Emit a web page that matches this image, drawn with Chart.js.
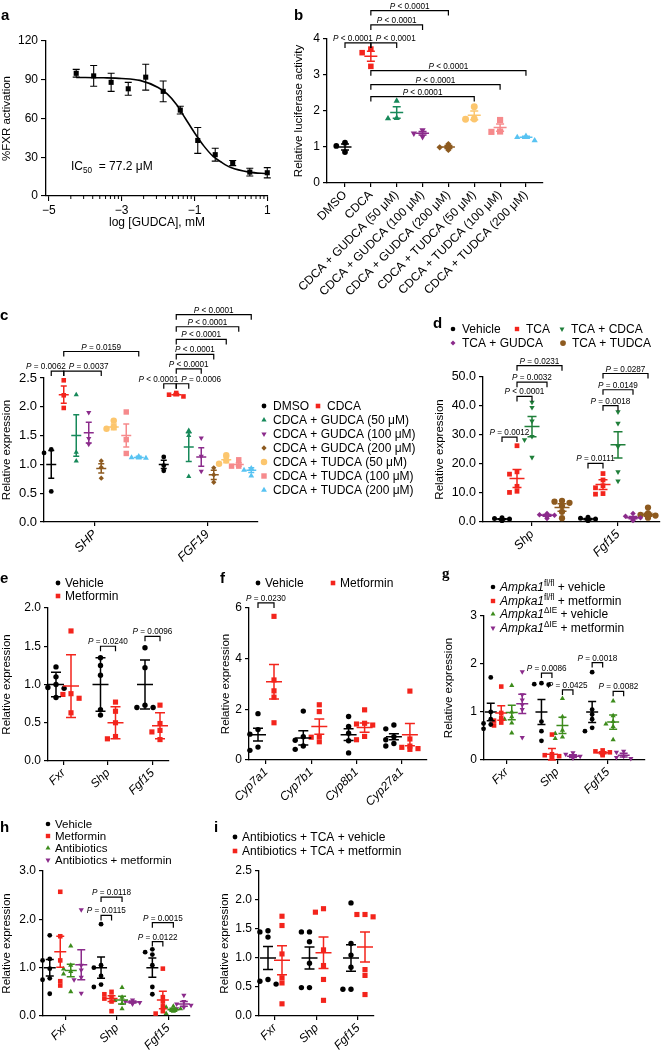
<!DOCTYPE html>
<html>
<head>
<meta charset="utf-8">
<script src="https://cdn.jsdelivr.net/npm/chart.js@4.4.1/dist/chart.umd.min.js"></script>
<style>
  html, body { margin: 0; padding: 0; background: #fff; }
  #page { position: relative; width: 664px; height: 1050px; overflow: hidden; }
  #page canvas { position: absolute; left: 0; top: 0; }
</style>
</head>
<body>
<div id="page"></div>
<script>
// ---------- data ----------

// a: dose response
const aLogDose = [-4.25, -3.77, -3.29, -2.82, -2.34, -1.86, -1.39, -0.91, -0.43, 0.05, 0.52, 1.0];
const aActivation = [95, 93, 88, 83, 92, 81, 66.5, 43, 32, 25.5, 18.5, 18];
const aError = [3, 8, 7, 5, 10, 8, 3, 10, 5, 2, 3, 4];
const aFitX = [-4.25, -3.5, -3, -2.5, -2, -1.75, -1.5, -1.25, -1, -0.75, -0.5, -0.25, 0, 0.5, 1];
const aFitY = [91.8, 91.5, 91, 89.5, 84, 79, 71, 60, 49, 39, 31, 26, 22, 18.5, 17.3];
const aMajorTicks = [-5, -3, -1, 1];
const aYTicks = [0, 30, 60, 90, 120];

// b: luciferase
const bGroups = ['DMSO', 'CDCA', 'CDCA + GUDCA (50 μM)', 'CDCA + GUDCA (100 μM)', 'CDCA + GUDCA (200 μM)',
  'CDCA + TUDCA (50 μM)', 'CDCA + TUDCA (100 μM)', 'CDCA + TUDCA (200 μM)'];
const bPoints = [[1.12, 1.03, 0.86], [3.72, 3.62, 3.24], [2.28, 1.8, 1.79], [1.47, 1.38, 1.28],
  [1.08, 0.99, 0.92], [2.12, 1.78, 1.77], [1.75, 1.43, 1.42], [1.3, 1.27, 1.18]];
const bMeans = [1.0, 3.52, 1.96, 1.38, 1.0, 1.88, 1.54, 1.27];
const bSems = [0.08, 0.14, 0.16, 0.05, 0.04, 0.12, 0.1, 0.03];
const bStats = [
  [[0, 0], [1, 1], 3.89, '*P* < 0.0001', 'r'],
  [[1, 1], [2, 2], 3.89, '*P* < 0.0001', 'l'],
  [[1, 1], [3, 3], 4.39, '*P* < 0.0001', 'c'],
  [[1, 1], [4, 4], 4.79, '*P* < 0.0001', 'c'],
  [[1, 1], [7, 7], 3.12, '*P* < 0.0001', 'c'],
  [[1, 1], [6, 6], 2.73, '*P* < 0.0001', 'c'],
  [[1, 1], [5, 5], 2.4, '*P* < 0.0001', 'c'],
];

// c: SHP / FGF19
const cGenes = ['SHP', 'FGF19'];
const cLabels = ['DMSO', 'CDCA', 'CDCA + GUDCA (50 μM)', 'CDCA + GUDCA (100 μM)', 'CDCA + GUDCA (200 μM)',
  'CDCA + TUDCA (50 μM)', 'CDCA + TUDCA (100 μM)', 'CDCA + TUDCA (200 μM)'];
const cPoints = [
  [[1.26, 1.2, 0.53], [1.13, 0.98, 0.89]],
  [[2.46, 2.2, 1.98], [2.24, 2.21, 2.18]],
  [[2.21, 1.21, 1.06], [1.59, 1.5, 0.79]],
  [[1.9, 1.45, 1.35], [1.46, 1.14, 0.88]],
  [[1.06, 0.95, 0.76], [0.94, 0.82, 0.69]],
  [[1.76, 1.65, 1.62], [1.16, 1.07, 1.01]],
  [[1.91, 1.43, 1.19], [1.08, 0.97, 0.97]],
  [[1.14, 1.12, 1.11], [0.93, 0.9, 0.8]],
];
const cMeans = [[1.0, 1.0], [2.21, 2.21], [1.5, 1.3], [1.55, 1.13], [0.93, 0.82], [1.65, 1.08], [1.5, 1.0], [1.12, 0.9]];
const cSems = [[0.24, 0.07], [0.15, 0.02], [0.36, 0.25], [0.18, 0.16], [0.08, 0.08], [0.05, 0.05], [0.2, 0.03], [0.02, 0.04]];
const cStats = [
  [[0, 0], [0, 1], 2.62, '*P* = 0.0062', 'r'],
  [[0, 1], [0, 4], 2.62, '*P* = 0.0037', 'l'],
  [[0, 1], [0, 7], 2.96, '*P* = 0.0159', 'c'],
  [[1, 0], [1, 1], 2.4, '*P* < 0.0001', 'r'],
  [[1, 1], [1, 2], 2.4, '*P* = 0.0006', 'l'],
  [[1, 1], [1, 3], 2.66, '*P* < 0.0001', 'c'],
  [[1, 1], [1, 4], 2.91, '*P* < 0.0001', 'c'],
  [[1, 1], [1, 5], 3.17, '*P* < 0.0001', 'c'],
  [[1, 1], [1, 6], 3.39, '*P* < 0.0001', 'c'],
  [[1, 1], [1, 7], 3.6, '*P* < 0.0001', 'c'],
];

// d: Shp / Fgf15 with TCA
const dGenes = ['Shp', 'Fgf15'];
const dLabels = ['Vehicle', 'TCA', 'TCA + CDCA', 'TCA + GUDCA', 'TCA + TUDCA'];
const dPoints = [
  [[1.5, 1.2, 1.0, 0.8, 0.6, 0.5], [1.6, 1.3, 1.0, 0.8, 0.6, 0.5]],
  [[26.3, 17.3, 16.5, 12.3, 10.6, 10.2], [16.7, 14.5, 12.5, 11.8, 9.8, 9.6]],
  [[41.3, 39.5, 34.8, 29.5, 28.3, 22.3], [38, 34, 26, 17.3, 14.1]],
  [[2.9, 2.5, 2.3, 2.1, 1.8, 1.2], [2.9, 2.0, 1.5, 1.2, 0.8, 0.5]],
  [[7.3, 7.0, 6.6, 5.5, 3.5, 1.3], [5.0, 3.0, 2.5, 2.2, 1.8, 1.5]],
];
const dMeans = [[1.0, 1.0], [15.0, 12.9], [32.9, 26.6], [2.3, 1.5], [5.0, 2.5]];
const dSems = [[0.15, 0.2], [3.1, 1.7], [3.5, 4.5], [0.3, 0.4], [1.3, 0.5]];
const dStats = [
  [[0, 0], [0, 1], 29.3, '*P* = 0.0012', 'c'],
  [[0, 1], [0, 2], 43.3, '*P* < 0.0001', 'c'],
  [[0, 1], [0, 3], 48.2, '*P* = 0.0032', 'c'],
  [[0, 1], [0, 4], 53.9, '*P* = 0.0231', 'c'],
  [[1, 0], [1, 1], 20.2, '*P* = 0.0111', 'c'],
  [[1, 1], [1, 2], 40.1, '*P* = 0.0018', 'c'],
  [[1, 1], [1, 3], 45.6, '*P* = 0.0149', 'c'],
  [[1, 1], [1, 4], 51.2, '*P* = 0.0287', 'c'],
];

// e: metformin Fxr/Shp/Fgf15
const eGenes = ['Fxr', 'Shp', 'Fgf15'];
const eLabels = ['Vehicle', 'Metformin'];
const ePoints = [
  [[1.23, 1.1, 1.0, 0.96, 0.95, 0.83], [1.35, 1.25, 1.12, 0.67, 0.6], [1.48, 1.22, 0.73, 0.7, 0.7]],
  [[1.7, 0.88, 0.87, 0.82, 0.63], [0.77, 0.65, 0.5, 0.32, 0.29], [0.73, 0.49, 0.4, 0.38, 0.28]],
];
const eMeans = [[1.0, 1.0, 1.0], [0.98, 0.5, 0.46]];
const eSems = [[0.16, 0.35, 0.32], [0.41, 0.21, 0.17]];
const eStats = [
  [[1, 0], [1, 1], 1.5, '*P* = 0.0240', 'c'],
  [[2, 0], [2, 1], 1.63, '*P* = 0.0096', 'c'],
];

// f: Cyp genes
const fGenes = ['Cyp7a1', 'Cyp7b1', 'Cyp8b1', 'Cyp27a1'];
const fLabels = ['Vehicle', 'Metformin'];
const fPoints = [
  [[1.83, 1.2, 1.02, 0.51, 0.38], [1.93, 0.92, 0.78, 0.55, 0.42], [1.72, 1.32, 1.06, 0.76, 0.28], [1.38, 1.23, 0.92, 0.8, 0.65, 0.55]],
  [[5.67, 3.16, 2.73, 2.48, 1.47], [2.18, 1.91, 0.93, 0.9, 0.72], [1.98, 1.45, 1.42, 1.38, 0.93, 0.8], [2.72, 0.83, 0.55, 0.5, 0.45, 0.42]],
];
const fMeans = [[1.0, 0.87, 1.0, 0.92], [3.09, 1.32, 1.28, 1.0]];
const fSems = [[0.25, 0.28, 0.23, 0.12], [0.68, 0.3, 0.18, 0.44]];
const fStats = [[[0, 0], [0, 1], 6.2, '*P* = 0.0230', 'c']];

// g: Ampka1 mice
const gGenes = ['Fxr', 'Shp', 'Fgf15'];
const gLabels = ['*Ampka1*^fl/fl^ + vehicle', '*Ampka1*^fl/fl^ + metformin', '*Ampka1*^ΔIE^ + vehicle', '*Ampka1*^ΔIE^ + metformin'];
const gPoints = [
  [[1.72, 1.0, 0.85, 0.76, 0.74, 0.65], [1.6, 1.58, 1.57, 0.8, 0.6, 0.4], [1.83, 1.05, 0.95, 0.85, 0.67, 0.6]],
  [[1.53, 0.98, 0.88, 0.82, 0.78, 0.72], [0.53, 0.12, 0.1, 0.08, 0.05, 0.05], [0.2, 0.18, 0.16, 0.14, 0.12, 0.1]],
  [[1.55, 1.0, 0.9, 0.85, 0.77, 0.56], [1.28, 0.9, 0.62, 0.55, 0.48, 0.45], [1.23, 0.92, 0.8, 0.75, 0.7, 0.42]],
  [[1.84, 1.36, 1.25, 1.15, 1.05, 0.47], [0.15, 0.12, 0.08, 0.05, 0.04], [0.18, 0.16, 0.08, 0.05, 0.03]],
];
const gMeans = [[1.0, 1.0, 1.0], [0.98, 0.12, 0.15], [0.99, 0.72, 0.79], [1.17, 0.08, 0.1]];
const gSems = [[0.18, 0.26, 0.22], [0.15, 0.12, 0.02], [0.15, 0.17, 0.15], [0.2, 0.03, 0.04]];
const gStats = [
  [[1, 0], [1, 1], 1.81, '*P* = 0.0086', 'c'],
  [[1, 2], [1, 3], 1.46, '*P* = 0.0425', 'c'],
  [[2, 0], [2, 1], 2.03, '*P* = 0.0018', 'c'],
  [[2, 2], [2, 3], 1.43, '*P* = 0.0082', 'c'],
];

// h: antibiotics
const hGenes = ['Fxr', 'Shp', 'Fgf15'];
const hLabels = ['Vehicle', 'Metformin', 'Antibiotics', 'Antibiotics + metformin'];
const hPoints = [
  [[1.67, 1.18, 1.15, 0.98, 0.78, 0.75, 0.46], [1.9, 1.05, 1.0, 0.83, 0.65, 0.6], [1.38, 1.32, 1.27, 1.05, 0.6, 0.45]],
  [[2.57, 1.65, 1.15, 0.72, 0.63], [0.5, 0.45, 0.4, 0.36, 0.3, 0.1], [0.98, 0.39, 0.3, 0.2, 0.1, 0.05]],
  [[1.45, 1.05, 0.97, 0.92, 0.87, 0.5], [0.59, 0.39, 0.32, 0.26, 0.15], [0.2, 0.18, 0.15, 0.12, 0.1, 0.05]],
  [[2.2, 1.05, 0.95, 0.8, 0.75, 0.47], [0.33, 0.3, 0.28, 0.27, 0.25], [0.43, 0.3, 0.25, 0.22, 0.18, 0.15]],
];
const hMeans = [[1.0, 1.0, 1.0], [1.33, 0.36, 0.33], [0.94, 0.33, 0.13], [1.06, 0.29, 0.25]];
const hSems = [[0.17, 0.22, 0.2], [0.32, 0.06, 0.18], [0.13, 0.08, 0.03], [0.31, 0.02, 0.05]];
const hStats = [
  [[1, 0], [1, 2], 2.46, '*P* = 0.0118', 'c'],
  [[1, 0], [1, 1], 2.08, '*P* = 0.0115', 'c'],
  [[2, 0], [2, 2], 1.93, '*P* = 0.0015', 'c'],
  [[2, 0], [2, 1], 1.54, '*P* = 0.0122', 'c'],
];

// i: antibiotics + TCA
const iGenes = ['Fxr', 'Shp', 'Fgf15'];
const iLabels = ['Antibiotics + TCA + vehicle', 'Antibiotics + TCA + metformin'];
const iPoints = [
  [[1.47, 1.45, 1.36, 0.63, 0.6, 0.55], [1.45, 1.45, 1.28, 0.91, 0.49, 0.49], [1.95, 1.25, 1.05, 0.84, 0.46, 0.46]],
  [[1.72, 1.56, 1.07, 0.66, 0.57, 0.21], [1.85, 1.79, 1.14, 0.87, 0.63, 0.27], [1.75, 1.75, 1.71, 0.8, 0.7, 0.37]],
];
const iMeans = [[1.0, 1.0, 1.0], [0.96, 1.09, 1.19]];
const iSems = [[0.2, 0.19, 0.23], [0.25, 0.27, 0.26]];

// ---------- styles ----------
const FF = "'Liberation Sans', Arial, Helvetica, sans-serif";
const BLACK = '#000';
const RED = '#f3241c';
const GREEN = '#17895a';
const PURPLE = '#8b2b8b';
const BROWN = '#8d5a1f';
const YELLOW = '#fcc66e';
const PINK = '#f68a8c';
const CYAN = '#58c3f2';
const GREEN_D = '#1f7f3a';
const GREEN_G = '#3d8c1c';

const dot = (color, scale) => ({color, style: 'circle', scale: scale || 1});
const sq = (color, scale) => ({color, style: 'rect', scale: scale || 1.35});
const tri = (color, scale) => ({color, style: 'triangle', scale: scale || 1.25});
const inv = (color, scale) => ({color, style: 'triangle', rot: 180, scale: scale || 1.25});
const dia = (color, scale) => ({color, style: 'rectRot', scale: scale || 1.1});

Chart.defaults.color = '#000';
Chart.defaults.font.family = FF;

const X_AXIS_H = 130; // room for the rotated category labels

// ---------- helpers ----------
function mkCanvas() {
  const c = document.createElement('canvas');
  c.width = 664;
  c.height = 1050;
  c.style.width = '664px';
  c.style.height = '1050px';
  document.getElementById('page').appendChild(c);
  return c.getContext('2d');
}

function parseRich(s) {
  const segs = [];
  let it = false, sup = false, sub = false, buf = '';
  const push = () => { if (buf) segs.push({t: buf, it, sup, sub}); buf = ''; };
  for (const ch of s) {
    if (ch === '*') { push(); it = !it; }
    else if (ch === '^') { push(); sup = !sup; }
    else if (ch === '_') { push(); sub = !sub; }
    else buf += ch;
  }
  push();
  return segs;
}
const plain = s => s.replace(/[*^_]/g, '');

function drawRich(ctx, s, x, y, size, align) {
  const segs = parseRich(s);
  const fontOf = g => (g.it ? 'italic ' : '') + ((g.sup || g.sub) ? size * 0.68 : size) + 'px ' + FF;
  let w = 0;
  segs.forEach(g => { ctx.font = fontOf(g); g.w = ctx.measureText(g.t).width; w += g.w; });
  let cx = align === 'center' ? x - w / 2 : align === 'right' ? x - w : x;
  ctx.textAlign = 'left';
  ctx.textBaseline = 'alphabetic';
  segs.forEach(g => {
    ctx.font = fontOf(g);
    const dy = g.sup ? -size * 0.42 : g.sub ? size * 0.28 : 0;
    ctx.fillText(g.t, cx, y + dy);
    cx += g.w;
  });
}

function drawLetter(ctx, ch, x, y, serif) {
  ctx.save();
  ctx.fillStyle = '#000';
  ctx.font = 'bold 15px ' + (serif ? "'Liberation Serif', 'Times New Roman', serif" : FF);
  ctx.textAlign = 'left';
  ctx.textBaseline = 'alphabetic';
  ctx.fillText(ch, x, y);
  ctx.restore();
}

const axisGrid = {drawOnChartArea: false, color: '#000', tickLength: 4, lineWidth: 1.2};
const axisBorder = {color: '#000', width: 1.3};

// ---------- panel a ----------
(function panelA() {
  const ctx = mkCanvas();
  const box = {l: 46, t: 41, r: 268, b: 196};
  const titleX = 6, titleY = 223;
  const padL = Math.max(0, titleX - 6.9);
  const xBottom = titleY + 7.2;

  const deco = {
    id: 'decoA',
    afterDatasetsDraw(chart) {
      const c = chart.ctx, xs = chart.scales.x, ys = chart.scales.y;
      c.save();
      c.strokeStyle = '#000';
      c.lineWidth = 1.1;
      c.beginPath();
      aLogDose.forEach((x, i) => {
        const px = xs.getPixelForValue(x);
        const y1 = ys.getPixelForValue(aActivation[i] + aError[i]);
        const y2 = ys.getPixelForValue(aActivation[i] - aError[i]);
        c.moveTo(px, y1); c.lineTo(px, y2);
        c.moveTo(px - 3.5, y1); c.lineTo(px + 3.5, y1);
        c.moveTo(px - 3.5, y2); c.lineTo(px + 3.5, y2);
      });
      c.stroke();
      // minor (log-style) ticks between the labelled values
      c.lineWidth = 1;
      c.beginPath();
      [-5, -3, -1].forEach(base => {
        for (let k = 2; k <= 9; k++) {
          const px = xs.getPixelForValue(base + 2 * Math.log10(k));
          c.moveTo(px, ys.bottom); c.lineTo(px, ys.bottom + 3);
        }
      });
      c.stroke();
      c.fillStyle = '#000';
      drawRich(c, 'IC_50_  = 77.2 μM', 71, 170, 12, 'left');
      c.restore();
      drawLetter(c, 'a', 1, 19.5);
    },
  };

  new Chart(ctx, {
    type: 'scatter',
    data: {
      datasets: [
        {
          data: aFitX.map((x, i) => ({x, y: aFitY[i]})),
          showLine: true, pointRadius: 0, borderColor: '#000', borderWidth: 1.6,
          cubicInterpolationMode: 'monotone', clip: false,
        },
        {
          data: aLogDose.map((x, i) => ({x, y: aActivation[i]})),
          pointStyle: 'rect', pointRadius: 3.6, backgroundColor: '#000', borderWidth: 0, clip: false,
        },
      ],
    },
    options: {
      responsive: false, animation: false, devicePixelRatio: 1,
      layout: {padding: {left: padL, top: box.t, right: 664 - box.r, bottom: 1050 - xBottom}},
      plugins: {legend: {display: false}, tooltip: {enabled: false}},
      scales: {
        x: {
          type: 'linear', min: -5.08, max: 1.02,
          afterBuildTicks: sc => { sc.ticks = aMajorTicks.map(v => ({value: v})); },
          afterFit: sc => { sc.height = xBottom - box.b; },
          ticks: {color: '#000', padding: 2, font: {size: 12}, callback: v => (v < 0 ? '\u2212' : '') + Math.abs(v)},
          grid: {drawOnChartArea: false, color: '#000', tickLength: 5, lineWidth: 1.1},
          border: axisBorder,
          title: {display: true, text: 'log [GUDCA], mM', color: '#000', font: {size: 12}, padding: {top: 0, bottom: 0}},
        },
        y: {
          min: 0, max: 120,
          afterBuildTicks: sc => { sc.ticks = aYTicks.map(v => ({value: v})); },
          afterFit: sc => { sc.width = box.l - padL; },
          ticks: {color: '#000', padding: 3, font: {size: 12}},
          grid: {drawOnChartArea: false, color: '#000', tickLength: 5, lineWidth: 1.1},
          border: axisBorder,
          title: {display: true, text: '%FXR activation', color: '#000', font: {size: 11.5}, padding: {top: 0, bottom: 0}},
        },
      },
    },
    plugins: [deco],
  });
})();

// ---------- dot-plot panels ----------
function dotPanel(p) {
  const ctx = mkCanvas();
  const {l, t, r, b} = p.box;
  const n = p.series.length;
  const xMax = (r - l) / p.slot;
  const centers = p.genes.map((g, k) => (p.g0 - l + k * p.gs) / p.slot);
  const off = s => (p.spread === false ? 0 : s - (n - 1) / 2);
  const xOf = (g, s) => centers[g] + off(s);
  const pxY = (b - t) / p.yMax;
  const padL = Math.max(0, p.titleX - 6.9);
  const rad = p.radius;

  const datasets = p.series.map((s, si) => {
    const pts = [];
    p.points[si].forEach((vals, g) => {
      if (!vals) return;
      const placed = [];
      vals.slice().sort((u, v) => v - u).forEach(v => {
        let dx = 0;
        for (let j = 0; j < 7; j++) {
          const cand = (j % 2 ? -1 : 1) * Math.ceil(j / 2) * rad * 1.5;
          const free = placed.every(q => Math.abs(q.dx - cand) >= rad * 1.8 || Math.abs(q.v - v) * pxY >= rad * 1.8);
          if (free) { dx = cand; break; }
        }
        placed.push({dx, v});
        pts.push({x: xOf(g, si) + dx / p.slot, y: v});
      });
    });
    return {
      label: plain(s.label), data: pts,
      pointStyle: s.style, rotation: s.rot || 0, pointRadius: rad * (s.scale || 1),
      backgroundColor: s.color, borderColor: s.color, borderWidth: 0, clip: false,
    };
  });

  const deco = {
    id: 'deco' + p.letter,
    afterDatasetsDraw(chart) {
      const c = chart.ctx, xs = chart.scales.x, ys = chart.scales.y;
      c.save();
      // mean +/- SEM
      c.lineWidth = 1.5;
      p.series.forEach((s, si) => {
        p.means[si].forEach((m, g) => {
          if (m == null) return;
          const e = p.sems[si][g];
          const x = xs.getPixelForValue(xOf(g, si));
          const ym = ys.getPixelForValue(m);
          const y1 = ys.getPixelForValue(m + e);
          const y2 = ys.getPixelForValue(Math.max(0, m - e));
          c.strokeStyle = s.color;
          c.beginPath();
          c.moveTo(x - p.meanW, ym); c.lineTo(x + p.meanW, ym);
          c.moveTo(x, y1); c.lineTo(x, y2);
          c.moveTo(x - p.capW, y1); c.lineTo(x + p.capW, y1);
          c.moveTo(x - p.capW, y2); c.lineTo(x + p.capW, y2);
          c.stroke();
        });
      });
      // significance brackets
      c.strokeStyle = '#000';
      c.fillStyle = '#000';
      c.lineWidth = 1.2;
      p.brackets.forEach(([A, B, yv, txt, al]) => {
        const x1 = xs.getPixelForValue(xOf(A[0], A[1]));
        const x2 = xs.getPixelForValue(xOf(B[0], B[1]));
        const y = ys.getPixelForValue(yv);
        c.beginPath();
        c.moveTo(x1, y + 5); c.lineTo(x1, y); c.lineTo(x2, y); c.lineTo(x2, y + 5);
        c.stroke();
        if (al === 'r') drawRich(c, txt, x2 + 2, y - 2, 8.2, 'right');
        else if (al === 'l') drawRich(c, txt, x1 + 5, y - 2, 8.2, 'left');
        else drawRich(c, txt, (x1 + x2) / 2, y - 2, 8.2, 'center');
      });
      // legend
      (p.legend || []).forEach(([si, mx, my]) => {
        const s = p.series[si];
        c.fillStyle = s.color;
        Chart.helpers.drawPoint(c, {pointStyle: s.style, rotation: s.rot || 0, radius: p.legendR * (s.scale || 1), borderWidth: 0}, mx, my);
        c.fillStyle = '#000';
        drawRich(c, s.label, mx + p.legendGap, my + p.legendFont * 0.36, p.legendFont, 'left');
      });
      c.restore();
      drawLetter(c, p.letter, p.letterPos[0], p.letterPos[1], p.serifLetter);
    },
  };

  new Chart(ctx, {
    type: 'scatter',
    data: {datasets},
    options: {
      responsive: false, animation: false, devicePixelRatio: 1,
      layout: {padding: {left: padL, top: t, right: 664 - r, bottom: Math.max(0, 1050 - b - X_AXIS_H)}},
      plugins: {legend: {display: false}, tooltip: {enabled: false}},
      scales: {
        x: {
          type: 'linear', min: 0, max: xMax,
          afterBuildTicks: sc => { sc.ticks = centers.map(v => ({value: v})); },
          afterFit: sc => { sc.height = Math.min(X_AXIS_H, 1050 - b); },
          ticks: {
            autoSkip: false, minRotation: 45, maxRotation: 45, color: '#000', padding: 1,
            font: {size: p.xFont, style: p.italic ? 'italic' : 'normal'},
            callback: (v, i) => p.genes[i],
          },
          grid: axisGrid,
          border: axisBorder,
        },
        y: {
          min: 0, max: p.yMax,
          afterBuildTicks: sc => {
            const a = [];
            for (let k = 0; k * p.yStep <= p.yMax + 1e-9; k++) a.push({value: +(k * p.yStep).toFixed(4)});
            sc.ticks = a;
          },
          afterFit: sc => { sc.width = l - padL; },
          ticks: {color: '#000', padding: 3, font: {size: p.yFont}, callback: v => Number(v).toFixed(p.dec)},
          grid: axisGrid,
          border: axisBorder,
          title: {display: true, text: p.yTitle, color: '#000', font: {size: 11.5}, padding: {top: 0, bottom: 0}},
        },
      },
    },
    plugins: [deco],
  });
}

const withLabels = (labels, styles) => labels.map((label, i) => Object.assign({label}, styles[i]));
const oneEach = arr => arr.map((v, i) => arr.map((_, g) => (g === i ? v : null)));

// b
dotPanel({
  letter: 'b', letterPos: [294, 19.5],
  box: {l: 327, t: 39, r: 543, b: 183}, titleX: 299, yTitle: 'Relative luciferase activity',
  yMax: 4, yStep: 1, dec: 0, yFont: 12, xFont: 12, italic: false,
  slot: 25.85, g0: 345, gs: 25.85, spread: false, genes: bGroups,
  series: withLabels(bGroups, [dot(BLACK), sq(RED), tri(GREEN), inv(PURPLE), dia(BROWN), dot(YELLOW, 1.2), sq(PINK, 1.5), tri(CYAN)]),
  points: oneEach(bPoints), means: oneEach(bMeans), sems: oneEach(bSems), brackets: bStats,
  radius: 2.9, meanW: 6.5, capW: 4,
});

// c
dotPanel({
  letter: 'c', letterPos: [0, 319.5],
  box: {l: 44, t: 378, r: 258, b: 522}, titleX: 7, yTitle: 'Relative expression',
  yMax: 2.5, yStep: 0.5, dec: 1, yFont: 13, xFont: 12.5, italic: true,
  slot: 12.5, g0: 95, gs: 112.5, genes: cGenes,
  series: withLabels(cLabels, [dot(BLACK), sq(RED), tri(GREEN), inv(PURPLE), dia(BROWN), dot(YELLOW, 1.35), sq(PINK, 1.6), tri(CYAN, 1.4)]),
  points: cPoints, means: cMeans, sems: cSems, brackets: cStats,
  legend: [[0, 264, 406], [1, 318, 406], [2, 264, 420], [3, 264, 434], [4, 264, 448], [5, 264, 462], [6, 264, 476], [7, 264, 490]],
  legendFont: 12, legendGap: 9, legendR: 2.4,
  radius: 2.4, meanW: 5, capW: 3,
});

// d
dotPanel({
  letter: 'd', letterPos: [433, 328],
  box: {l: 483, t: 377, r: 660, b: 522}, titleX: 440, yTitle: 'Relative expression',
  yMax: 50, yStep: 10, dec: 1, yFont: 12.5, xFont: 12.5, italic: true,
  slot: 15, g0: 532, gs: 86, genes: dGenes,
  series: withLabels(dLabels, [dot(BLACK), sq(RED), inv(GREEN_D), dia(PURPLE), dot(BROWN, 1.25)]),
  points: dPoints, means: dMeans, sems: dSems, brackets: dStats,
  legend: [[0, 453, 329], [1, 517, 329], [2, 562, 329], [3, 453, 343], [4, 563, 343]],
  legendFont: 12, legendGap: 9, legendR: 2.3,
  radius: 2.5, meanW: 7.5, capW: 4.5,
});

// e
dotPanel({
  letter: 'e', letterPos: [0, 583],
  box: {l: 48, t: 608, r: 169, b: 761}, titleX: 6, yTitle: 'Relative expression',
  yMax: 2, yStep: 0.5, dec: 1, yFont: 12, xFont: 12, italic: true,
  slot: 15, g0: 63.5, gs: 44.5, genes: eGenes,
  series: withLabels(eLabels, [dot(BLACK), sq(RED)]),
  points: ePoints, means: eMeans, sems: eSems, brackets: eStats,
  legend: [[0, 58, 583], [1, 58, 596]],
  legendFont: 12, legendGap: 7, legendR: 2.4,
  radius: 2.7, meanW: 8, capW: 5,
});

// f
dotPanel({
  letter: 'f', letterPos: [220, 583],
  box: {l: 249, t: 608, r: 427, b: 760}, titleX: 226, yTitle: 'Relative expression',
  yMax: 6, yStep: 2, dec: 0, yFont: 12, xFont: 12, italic: true,
  slot: 16, g0: 266, gs: 45.3, genes: fGenes,
  series: withLabels(fLabels, [dot(BLACK), sq(RED)]),
  points: fPoints, means: fMeans, sems: fSems, brackets: fStats,
  legend: [[0, 258, 583], [1, 333, 583]],
  legendFont: 12, legendGap: 7, legendR: 2.4,
  radius: 2.7, meanW: 8, capW: 5,
});

// g
dotPanel({
  letter: 'g', letterPos: [442, 578], serifLetter: true,
  box: {l: 484, t: 616, r: 645, b: 760}, titleX: 449, yTitle: 'Relative expression',
  yMax: 3, yStep: 1, dec: 0, yFont: 12, xFont: 12, italic: true,
  slot: 10.5, g0: 506.5, gs: 50.7, genes: gGenes,
  series: withLabels(gLabels, [dot(BLACK), sq(RED), tri(GREEN_G), inv(PURPLE)]),
  points: gPoints, means: gMeans, sems: gSems, brackets: gStats,
  legend: [[0, 493, 587], [1, 493, 601], [2, 493, 614], [3, 493, 628]],
  legendFont: 12, legendGap: 7, legendR: 2.3,
  radius: 2.4, meanW: 6, capW: 4,
});

// h
dotPanel({
  letter: 'h', letterPos: [0, 832],
  box: {l: 43, t: 871, r: 190, b: 1016}, titleX: 6, yTitle: 'Relative expression',
  yMax: 3, yStep: 1, dec: 1, yFont: 12, xFont: 12, italic: true,
  slot: 10.5, g0: 65.5, gs: 51.3, genes: hGenes,
  series: withLabels(hLabels, [dot(BLACK), sq(RED), tri(GREEN_G), inv(PURPLE)]),
  points: hPoints, means: hMeans, sems: hSems, brackets: hStats,
  legend: [[0, 48, 824], [1, 48, 836], [2, 48, 848], [3, 48, 860]],
  legendFont: 11.5, legendGap: 7, legendR: 2.3,
  radius: 2.4, meanW: 6, capW: 4,
});

// i
dotPanel({
  letter: 'i', letterPos: [214, 832],
  box: {l: 259, t: 871, r: 374, b: 1016}, titleX: 225, yTitle: 'Relative expression',
  yMax: 2.5, yStep: 0.5, dec: 1, yFont: 12, xFont: 12, italic: true,
  slot: 14, g0: 275, gs: 41.5, genes: iGenes,
  series: withLabels(iLabels, [dot(BLACK), sq(RED)]),
  points: iPoints, means: iMeans, sems: iSems, brackets: [],
  legend: [[0, 235, 837], [1, 235, 851]],
  legendFont: 12, legendGap: 7, legendR: 2.4,
  radius: 2.7, meanW: 8, capW: 5,
});
</script>
</body>
</html>
